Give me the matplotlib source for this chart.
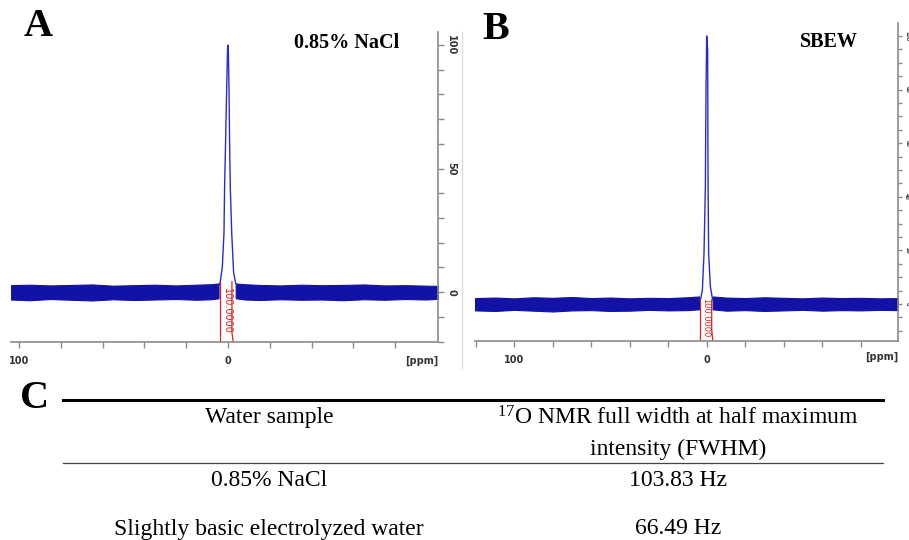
import matplotlib
matplotlib.use("Agg")
import matplotlib.pyplot as plt
from matplotlib.lines import Line2D

plt.rcParams['mathtext.fontset'] = 'custom'
plt.rcParams['mathtext.rm'] = 'Liberation Serif'

# ---------------- data ----------------
# Panel A: 0.85% NaCl, peak profile (ppm, relative intensity)
peak_a_ppm = [4.5, 3.7, 2.7, 1.9, 1.6, 1.1, 0.6, 0.2, 0.0, -0.2, -0.5, -0.8, -1.1, -1.8, -2.7, -3.7]
peak_a_int = [2.5, 4.0, 10.0, 24.0, 43.0, 62.0, 83.0, 98.0, 100.0, 97.0, 82.0, 60.0, 43.0, 24.0, 8.0, 3.5]
# baseline noise envelope (ppm, upper, lower)
base_a_ppm_left = [104, 95, 85, 75, 65, 55, 45, 35, 25, 15, 8, 4.5]
base_a_up_left = [2.8, 3.0, 2.7, 2.9, 3.1, 2.6, 2.8, 3.0, 2.7, 3.0, 3.2, 3.5]
base_a_lo_left = [-3.0, -3.3, -2.8, -3.1, -3.4, -2.9, -3.2, -3.0, -2.8, -3.1, -2.9, -2.5]
base_a_ppm_right = [-3.7, -8, -15, -25, -35, -45, -55, -65, -75, -85, -95, -100.5]
base_a_up_right = [3.5, 3.2, 2.9, 2.7, 3.0, 2.8, 2.9, 3.1, 2.7, 2.8, 2.6, 2.5]
base_a_lo_right = [-2.5, -3.0, -3.2, -2.9, -3.1, -3.0, -3.3, -2.9, -3.1, -2.8, -3.0, -2.7]

# Panel B: SBEW
peak_b_ppm = [4.0, 3.3, 2.25, 1.4, 0.7, 0.35, 0.0, -0.5, -0.7, -1.0, -1.9, -3.1]
peak_b_int = [1.5, 1.5, 5.2, 18.9, 43.8, 81.0, 100.0, 94.8, 45.0, 19.0, 6.5, 1.5]
base_b_ppm_left = [120.4, 110, 100, 90, 80, 70, 60, 50, 40, 30, 20, 10, 4.0]
base_b_up_left = [2.2, 2.4, 2.1, 2.5, 2.3, 2.6, 2.2, 2.4, 2.1, 2.3, 2.2, 2.5, 2.8]
base_b_lo_left = [-2.4, -2.6, -2.2, -2.5, -2.8, -2.4, -2.3, -2.6, -2.5, -2.2, -2.4, -2.3, -2.0]
base_b_ppm_right = [-3.1, -10, -20, -30, -40, -50, -60, -70, -80, -90, -99.4]
base_b_up_right = [2.8, 2.4, 2.2, 2.5, 2.3, 2.1, 2.4, 2.2, 2.3, 2.1, 2.2]
base_b_lo_right = [-2.0, -2.5, -2.3, -2.6, -2.4, -2.2, -2.5, -2.3, -2.4, -2.2, -2.3]

# integral regions (ppm) and label
integral_a = [3.7, -1.9]
integral_b = [3.3, -2.6]
integral_label = "100.0000"

# table
table_header = ["Water sample", r"$\mathregular{^{17}}$O NMR full width at half maximum", "intensity (FWHM)"]
samples = ["0.85% NaCl", "Slightly basic electrolyzed water"]
fwhm = ["103.83 Hz", "66.49 Hz"]

# ---------------- figure ----------------
W, H = 909, 540
fig = plt.figure(figsize=(W / 100, H / 100), dpi=100)
fig.patch.set_facecolor("white")


def fx(px):
    return px / W


def fy(py):
    return 1 - py / H


def make_axes(l, r, t, b):
    return fig.add_axes([fx(l), fy(b), fx(r) - fx(l), fy(t) - fy(b)])


BLUE = "#1212a6"
PEAK = "#2a2ad0"
RED = "#e02020"
GREY = "#8a8a8a"


def style_axes(ax, xlim, ylim, yticks_major, yticks_minor, ylabels, ylabelsize, ypad, ylen):
    ax.set_xlim(*xlim)
    ax.set_ylim(*ylim)
    for s in ["top", "left"]:
        ax.spines[s].set_visible(False)
    for s in ["bottom", "right"]:
        ax.spines[s].set_color(GREY)
        ax.spines[s].set_linewidth(1.2)
    ax.set_facecolor("none")
    xt = list(range(-80, 121, 20))
    xt = [t for t in xt if xlim[1] <= t <= xlim[0]]
    ax.set_xticks(xt)
    ax.set_xticklabels([str(t) if t in (100, 0) else "" for t in xt],
                       fontsize=7, fontweight="bold", color="#333333")
    ax.tick_params(axis="x", direction="out", length=4, width=1, color=GREY, pad=6)
    ax.yaxis.tick_right()
    ax.set_yticks(yticks_major)
    ax.set_yticks(yticks_minor, minor=True)
    ax.set_yticklabels(ylabels, rotation=-90, fontsize=ylabelsize, fontweight="bold",
                       color="#333333", va="center")
    ax.tick_params(axis="y", which="both", direction="out", length=ylen, width=1,
                   color=GREY, pad=ypad)


def draw_spectrum(ax, pk_ppm, pk_int, bl_ppm, bl_up, bl_lo, br_ppm, br_up, br_lo):
    ax.fill_between(bl_ppm, bl_lo, bl_up, color=BLUE, lw=0.8, edgecolor=BLUE)
    ax.fill_between(br_ppm, br_lo, br_up, color=BLUE, lw=0.8, edgecolor=BLUE)
    ax.plot(pk_ppm, pk_int, color=PEAK, lw=1.0)


def draw_integral(ax, rng, top, bottom, text_x, text_y, fs):
    x0, x1 = rng
    ax.plot([x0, x0], [bottom, top], color=RED, lw=0.9)
    ax.plot([x1, x1, x1 - 0.6], [top, bottom + 4, bottom], color=RED, lw=0.9)
    ax.text(text_x, text_y, integral_label, rotation=-90, color=RED,
            fontsize=fs, ha="center", va="center")


# Panel A
axA = make_axes(11, 438, 32, 342)
style_axes(axA, (103.8, -100.5), (-20.2, 105.3),
           [0, 50, 100], list(range(-20, 101, 10)), ["0", "50", "100"], 7, 2, 4)
draw_spectrum(axA, peak_a_ppm, peak_a_int, base_a_ppm_left, base_a_up_left, base_a_lo_left,
              base_a_ppm_right, base_a_up_right, base_a_lo_right)
draw_integral(axA, integral_a, 4.2, -20.2, 0.3, -7.7, 7)
axA.text(1.0, -0.045, "[ppm]", transform=axA.transAxes, ha="right", va="top",
         fontsize=7, fontweight="bold", color="#333333")

# Panel B
axB = make_axes(475, 898, 23.3, 340.7)
style_axes(axB, (120.4, -99.4), (-13.7, 104.7),
           [0, 20, 40, 60, 80, 100], list(range(-10, 101, 5)),
           ["0", "20", "40", "60", "80", "100"], 3.5, 1.5, 3)
draw_spectrum(axB, peak_b_ppm, peak_b_int, base_b_ppm_left, base_b_up_left, base_b_lo_left,
              base_b_ppm_right, base_b_up_right, base_b_lo_right)
draw_integral(axB, integral_b, 1.5, -13.7, 0.7, -5.0, 6)
axB.text(1.0, -0.035, "[ppm]", transform=axB.transAxes, ha="right", va="top",
         fontsize=7, fontweight="bold", color="#333333")

# faint frame line at right of panel A
fig.add_artist(Line2D([fx(462), fx(462)], [fy(32), fy(368)], color="#dddddd", lw=1))

# panel letters and titles
serif = "Liberation Serif"
fig.text(fx(38), fy(27), "A", fontsize=29, fontweight="bold", family=serif, ha="center", va="center")
fig.text(fx(347), fy(43), "0.85% NaCl", fontsize=14.5, fontweight="bold", family=serif, ha="center", va="center")
fig.text(fx(496), fy(29.5), "B", fontsize=29, fontweight="bold", family=serif, ha="center", va="center")
fig.text(fx(829), fy(42), "SBEW", fontsize=14.5, fontweight="bold", family=serif, ha="center", va="center")
fig.text(fx(35), fy(399), "C", fontsize=29, fontweight="bold", family=serif, ha="center", va="center")

# table lines
fig.add_artist(Line2D([fx(63), fx(883)], [fy(400), fy(400)], color="black", lw=2.2))
fig.add_artist(Line2D([fx(63), fx(883)], [fy(463), fy(463)], color="#444444", lw=0.9))

# table text
tfs = 17
col1, col2 = 269, 678
fig.text(fx(col1), fy(418), table_header[0], fontsize=tfs, family=serif, ha="center", va="center")
fig.text(fx(col2), fy(418), table_header[1], fontsize=tfs, family=serif, ha="center", va="center")
fig.text(fx(col2), fy(449), table_header[2], fontsize=tfs, family=serif, ha="center", va="center")
rows_y = [481, 529]
for s, v, yy in zip(samples, fwhm, rows_y):
    fig.text(fx(col1), fy(yy), s, fontsize=tfs, family=serif, ha="center", va="center")
    fig.text(fx(col2), fy(yy), v, fontsize=tfs, family=serif, ha="center", va="center")

fig.savefig("out.png", dpi=100)
